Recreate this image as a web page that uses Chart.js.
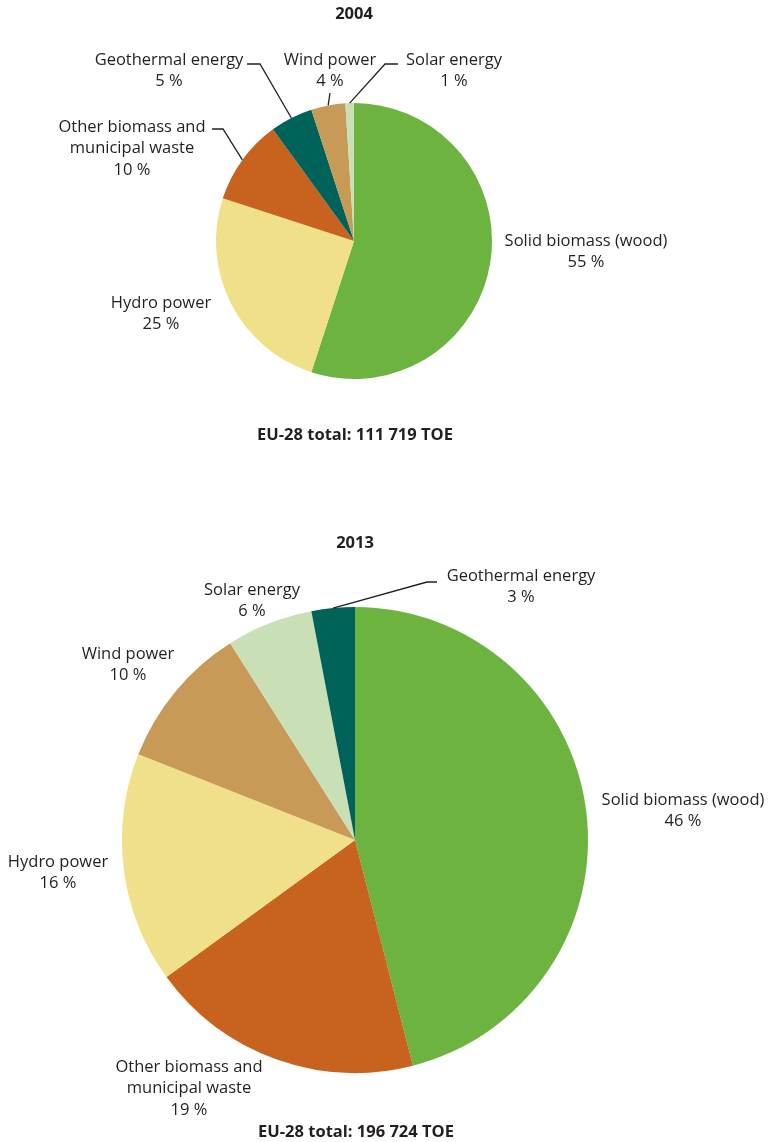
<!DOCTYPE html>
<html>
<head>
<meta charset="utf-8">
<script src="https://cdn.jsdelivr.net/npm/chart.js@4.4.1/dist/chart.umd.min.js"></script>
<style>
  html, body { margin: 0; padding: 0; background: #fff; }
  .wrap { position: relative; width: 774px; }
  canvas { display: block; }
</style>
</head>
<body>
<div class="wrap"><canvas id="pie2004" width="774" height="470"></canvas></div>
<div class="wrap"><canvas id="pie2013" width="774" height="672"></canvas></div>
<script>
// Share of renewable heat, EU-28
const labels2004 = ['Solid biomass (wood)', 'Hydro power', 'Other biomass and municipal waste', 'Geothermal energy', 'Wind power', 'Solar energy'];
const values2004 = [55, 25, 10, 5, 4, 1];
const colors2004 = ['#6cb33f', '#f0e08a', '#c8631f', '#00635a', '#c79a58', '#c9dfb6'];

const labels2013 = ['Solid biomass (wood)', 'Other biomass and municipal waste', 'Hydro power', 'Wind power', 'Solar energy', 'Geothermal energy'];
const values2013 = [46, 19, 16, 10, 6, 3];
const colors2013 = ['#6cb33f', '#c8631f', '#f0e08a', '#c79a58', '#c9dfb6', '#00635a'];

const FONT = '"Open Sans", "DejaVu Sans", sans-serif';

// label text position and optional leader (elbow, stub end), offsets from the pie centre
const place2004 = [
  { lines: ['Solid biomass (wood)'], at: [232, 0] },
  { lines: ['Hydro power'], at: [-193, 62] },
  { lines: ['Other biomass and', 'municipal waste'], at: [-222, -114], leader: [[-131, -112], [-142, -112]] },
  { lines: ['Geothermal energy'], at: [-185, -181], leader: [[-94, -177], [-107, -177]] },
  { lines: ['Wind power'], at: [-24, -181], leader: [[-24, -148]] },
  { lines: ['Solar energy'], at: [100, -181], leader: [[31, -177], [44, -177]] }
];
const place2013 = [
  { lines: ['Solid biomass (wood)'], at: [328, -40] },
  { lines: ['Other biomass and', 'municipal waste'], at: [-166, 227] },
  { lines: ['Hydro power'], at: [-297, 22] },
  { lines: ['Wind power'], at: [-227, -186] },
  { lines: ['Solar energy'], at: [-103, -250] },
  { lines: ['Geothermal energy'], at: [166, -264], leader: [[72, -258], [82, -258]] }
];

const sliceLabels = {
  id: 'sliceLabels',
  afterDraw(chart, args, opts) {
    const ctx = chart.ctx;
    const meta = chart.getDatasetMeta(0);
    const values = chart.data.datasets[0].data;
    const first = meta.data[0];
    const cx = first.x, cy = first.y;
    ctx.save();
    ctx.textAlign = 'center';
    ctx.textBaseline = 'middle';
    ctx.fillStyle = '#231f20';

    // year above, total below
    ctx.font = 'bold 16.5px ' + FONT;
    ctx.fillText(opts.title, cx + opts.titleAt[0], cy + opts.titleAt[1]);
    ctx.fillText(opts.total, cx + opts.totalAt[0], cy + opts.totalAt[1]);

    ctx.font = '16.5px ' + FONT;
    meta.data.forEach((arc, i) => {
      const p = opts.place[i];
      const lines = p.lines.concat([values[i] + ' %']);
      const tx = cx + p.at[0];
      const ty = cy + p.at[1];
      lines.forEach((t, k) => ctx.fillText(t, tx, ty + k * 21.5));
      if (p.leader) {
        const { startAngle, endAngle, outerRadius } = arc.getProps(['startAngle', 'endAngle', 'outerRadius'], true);
        const mid = (startAngle + endAngle) / 2;
        ctx.beginPath();
        ctx.moveTo(cx + Math.cos(mid) * outerRadius, cy + Math.sin(mid) * outerRadius);
        p.leader.forEach(pt => ctx.lineTo(cx + pt[0], cy + pt[1]));
        ctx.strokeStyle = '#231f20';
        ctx.lineWidth = 1.3;
        ctx.stroke();
      }
    });
    ctx.restore();
  }
};

function makePie(id, labels, values, colors, radius, padding, extra) {
  return new Chart(document.getElementById(id), {
    type: 'pie',
    data: {
      labels: labels,
      datasets: [{
        data: values,
        backgroundColor: colors,
        borderWidth: 0,
        radius: radius
      }]
    },
    options: {
      responsive: false,
      animation: false,
      layout: { padding: padding },
      plugins: {
        legend: { display: false },
        tooltip: { enabled: false },
        sliceLabels: extra
      }
    },
    plugins: [sliceLabels]
  });
}

makePie('pie2004', labels2004, values2004, colors2004, 138,
  { left: 216, right: 282, top: 103, bottom: 91 },
  { title: '2004', titleAt: [0, -227], total: 'EU-28 total: 111 719 TOE', totalAt: [1, 194], place: place2004 });

makePie('pie2013', labels2013, values2013, colors2013, 233,
  { left: 122, right: 186, top: 137, bottom: 69 },
  { title: '2013', titleAt: [0, -297], total: 'EU-28 total: 196 724 TOE', totalAt: [1, 292], place: place2013 });
</script>
</body>
</html>
